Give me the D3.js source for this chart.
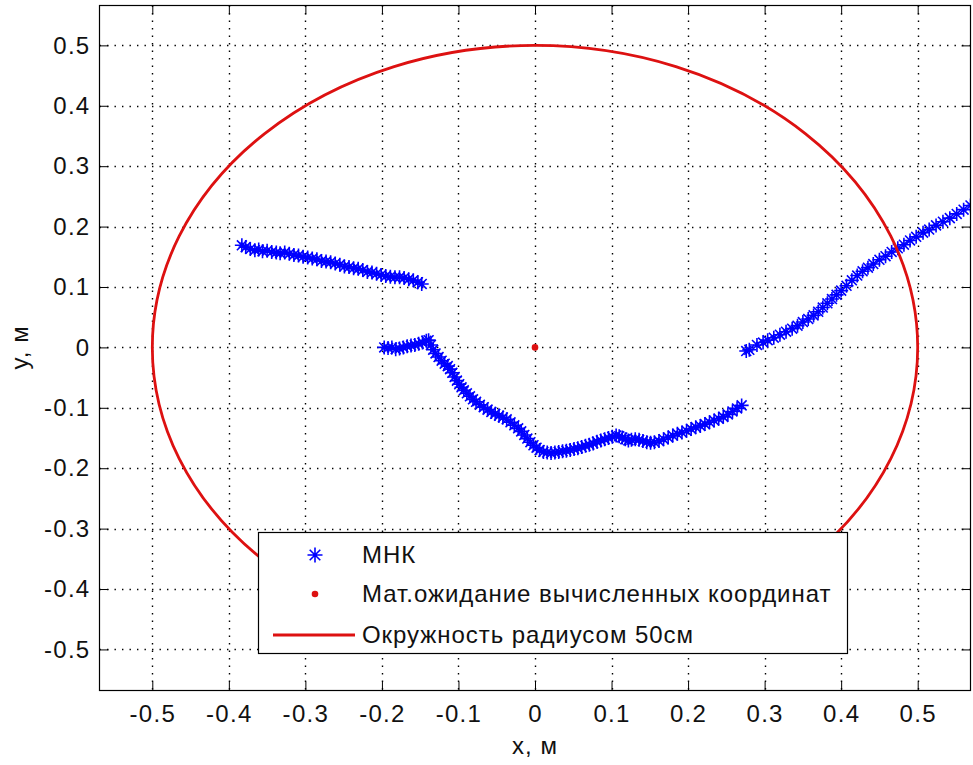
<!DOCTYPE html>
<html>
<head>
<meta charset="utf-8">
<script src="https://cdn.jsdelivr.net/npm/d3@7"></script>
<style>
  html, body { margin: 0; padding: 0; background: #fff; }
  svg { display: block; }
  text { font-family: "Liberation Sans", Arial, sans-serif; fill: #111; }
</style>
</head>
<body>
<svg id="chart" width="973" height="765"></svg>
<script>
// Tick values for both axes (metres)
const xTicks = [-0.5, -0.4, -0.3, -0.2, -0.1, 0, 0.1, 0.2, 0.3, 0.4, 0.5];
const yTicks = [-0.5, -0.4, -0.3, -0.2, -0.1, 0, 0.1, 0.2, 0.3, 0.4, 0.5];

// Least-squares (МНК) position estimates
const mnkX = [
  // upper-left run
  -0.383,-0.378,-0.372,-0.366,-0.361,-0.356,-0.350,-0.344,-0.338,-0.333,
  -0.327,-0.321,-0.315,-0.309,-0.303,-0.297,-0.291,-0.285,-0.279,-0.273,
  -0.267,-0.261,-0.255,-0.249,-0.243,-0.237,-0.231,-0.225,-0.219,-0.213,
  -0.207,-0.201,-0.195,-0.189,-0.183,-0.177,-0.171,-0.165,-0.159,-0.153,-0.148,
  // central run
  -0.197,-0.192,-0.187,-0.182,-0.177,-0.172,-0.167,-0.162,-0.157,-0.152,-0.147,-0.142,-0.139,
  -0.136,-0.133,-0.130,-0.126,-0.122,-0.118,-0.114,-0.111,-0.108,-0.105,-0.102,-0.099,
  -0.096,-0.093,-0.089,-0.085,-0.081,-0.077,-0.072,-0.067,-0.062,-0.057,-0.052,-0.047,
  -0.042,-0.037,-0.032,-0.027,-0.022,-0.018,-0.014,-0.010,-0.006,-0.002,0.002,0.006,
  0.011,0.016,0.021,0.026,0.031,0.036,0.041,0.046,0.051,0.056,0.061,0.066,0.071,0.076,
  0.081,0.086,0.091,0.096,0.101,0.106,0.110,0.114,0.118,0.122,0.126,0.131,0.136,0.141,
  0.146,0.151,0.156,0.162,0.168,0.174,0.180,0.186,0.192,0.198,0.204,0.210,0.216,0.222,
  0.228,0.234,0.240,0.246,0.252,0.258,0.264,0.270,
  // right run
  0.276,0.280,0.290,0.298,0.304,0.312,0.320,0.328,0.336,0.343,0.350,0.357,0.364,0.370,
  0.376,0.382,0.388,0.394,0.400,0.407,0.414,0.421,0.428,0.435,0.442,0.450,0.458,0.466,
  0.474,0.482,0.490,0.498,0.507,0.515,0.524,0.533,0.542,0.551,0.560,0.569,0.578
];
const mnkY = [
  0.169,0.166,0.163,0.161,0.162,0.159,0.160,0.158,0.157,0.156,
  0.157,0.155,0.153,0.152,0.150,0.149,0.147,0.146,0.143,0.142,
  0.141,0.139,0.137,0.134,0.133,0.131,0.130,0.128,0.125,0.124,
  0.122,0.120,0.118,0.117,0.116,0.116,0.115,0.113,0.111,0.108,0.105,
  0.000,-0.001,0.000,-0.003,-0.002,0.000,0.002,0.003,0.004,0.006,0.008,0.011,0.012,
  0.004,-0.004,-0.010,-0.016,-0.022,-0.027,-0.031,-0.036,-0.042,-0.049,-0.055,-0.061,
  -0.066,-0.071,-0.076,-0.081,-0.086,-0.090,-0.095,-0.099,-0.103,-0.107,-0.110,-0.113,
  -0.116,-0.119,-0.124,-0.129,-0.134,-0.139,-0.145,-0.151,-0.157,-0.162,-0.166,-0.170,
  -0.173,-0.174,-0.175,-0.174,-0.173,-0.172,-0.171,-0.170,-0.168,-0.167,-0.165,-0.163,-0.161,-0.159,
  -0.156,-0.154,-0.152,-0.150,-0.148,-0.146,-0.147,-0.149,-0.152,-0.154,-0.153,-0.152,-0.153,-0.155,
  -0.157,-0.158,-0.157,-0.155,-0.152,-0.149,-0.146,-0.143,-0.141,-0.138,-0.135,-0.132,-0.130,-0.127,
  -0.124,-0.121,-0.118,-0.115,-0.111,-0.106,-0.101,-0.096,
  -0.006,-0.004,0.004,0.008,0.012,0.016,0.021,0.026,0.031,0.036,0.042,0.047,0.053,0.059,
  0.066,0.073,0.080,0.087,0.094,0.102,0.111,0.119,0.126,0.132,0.138,0.145,0.151,0.158,
  0.164,0.170,0.177,0.183,0.190,0.195,0.202,0.208,0.214,0.221,0.228,0.235,0.242
];

// Expected value of the computed coordinates
const meanX = [0];
const meanY = [0];

// Reference circle, radius 50 cm about the origin
const circleRadius = [0.5];
const circleCenter = [0, 0];

const legendLabels = ["МНК", "Мат.ожидание вычисленных координат", "Окружность радиусом 50см"];

const plot = { left: 99.5, right: 970.5, top: 5.5, bottom: 690.5 };
const fontSize = 24;
const blue = "#0000ff", red = "#dd1111";

const svg = d3.select("#chart");

const x = d3.scaleLinear().domain([-0.569, 0.569]).range([plot.left, plot.right]);
const y = d3.scaleLinear().domain([-0.568, 0.566]).range([plot.bottom, plot.top]);

const fmt = d => d === 0 ? "0" : d.toFixed(1);

svg.append("defs").append("clipPath").attr("id", "plotClip")
  .append("rect")
  .attr("x", plot.left).attr("y", plot.top)
  .attr("width", plot.right - plot.left).attr("height", plot.bottom - plot.top);

// Dotted grid
const grid = svg.append("g").attr("stroke", "#000").attr("stroke-width", 1.4)
  .attr("stroke-dasharray", "1.4,6.1");
grid.selectAll("line.gx").data(xTicks).join("line").attr("class", "gx")
  .attr("x1", d => Math.round(x(d)) + 0.5).attr("x2", d => Math.round(x(d)) + 0.5)
  .attr("y1", plot.top).attr("y2", plot.bottom);
grid.selectAll("line.gy").data(yTicks).join("line").attr("class", "gy")
  .attr("y1", d => Math.round(y(d)) + 0.5).attr("y2", d => Math.round(y(d)) + 0.5)
  .attr("x1", plot.left).attr("x2", plot.right);

// Axes: labelled bottom/left, plus mirrored inward ticks on top/right
const tickLen = 9;
const axB = d3.axisBottom(x).tickValues(xTicks).tickFormat(fmt).tickSizeInner(-tickLen).tickSizeOuter(0).tickPadding(14);
const axL = d3.axisLeft(y).tickValues(yTicks).tickFormat(fmt).tickSizeInner(-tickLen).tickSizeOuter(0).tickPadding(9);
const axT = d3.axisTop(x).tickValues(xTicks).tickFormat("").tickSizeInner(-tickLen).tickSizeOuter(0);
const axR = d3.axisRight(y).tickValues(yTicks).tickFormat("").tickSizeInner(-tickLen).tickSizeOuter(0);

function styleAxis(g) {
  g.select(".domain").remove();
  g.selectAll(".tick line").attr("stroke", "#000").attr("stroke-width", 1);
  g.selectAll(".tick text").attr("font-size", fontSize)
    .attr("letter-spacing", "1.3px")
    .style("font-family", '"Liberation Sans", Arial, sans-serif').attr("fill", "#111");
}
svg.append("g").attr("transform", `translate(0,${plot.bottom})`).call(axB).call(styleAxis);
svg.append("g").attr("transform", `translate(${plot.left},0)`).call(axL).call(styleAxis);
svg.append("g").attr("transform", `translate(0,${plot.top})`).call(axT).call(styleAxis);
svg.append("g").attr("transform", `translate(${plot.right},0)`).call(axR).call(styleAxis);

// Data layers
const data = svg.append("g").attr("clip-path", "url(#plotClip)");

const starPath = r => {
  const d = r * Math.SQRT1_2;
  return `M${-r},0H${r}M0,${-r}V${r}M${-d},${-d}L${d},${d}M${-d},${d}L${d},${-d}`;
};

data.selectAll("path.mnk").data(d3.range(mnkX.length)).join("path").attr("class", "mnk")
  .attr("transform", i => `translate(${x(mnkX[i])},${y(mnkY[i])})`)
  .attr("d", starPath(7))
  .attr("stroke", blue).attr("stroke-width", 1.6).attr("fill", "none");

data.selectAll("circle.mean").data(d3.range(meanX.length)).join("circle").attr("class", "mean")
  .attr("cx", i => x(meanX[i])).attr("cy", i => y(meanY[i])).attr("r", 3.3)
  .attr("fill", red);

data.selectAll("ellipse.ring").data(circleRadius).join("ellipse").attr("class", "ring")
  .attr("cx", x(circleCenter[0])).attr("cy", y(circleCenter[1]))
  .attr("rx", r => x(circleCenter[0] + r) - x(circleCenter[0]))
  .attr("ry", r => y(circleCenter[1]) - y(circleCenter[1] + r))
  .attr("fill", "none").attr("stroke", red).attr("stroke-width", 2.8);

// Axes box
svg.append("rect")
  .attr("x", plot.left).attr("y", plot.top)
  .attr("width", plot.right - plot.left).attr("height", plot.bottom - plot.top)
  .attr("fill", "none").attr("stroke", "#000").attr("stroke-width", 1.2);

// Axis titles
svg.append("text").attr("x", x(0)).attr("y", 754).attr("text-anchor", "middle")
  .attr("font-size", fontSize).attr("letter-spacing", "1px").text("x, м");
svg.append("text").attr("transform", `translate(28,${y(0)}) rotate(-90)`)
  .attr("text-anchor", "middle").attr("font-size", fontSize).attr("letter-spacing", "1px").text("y, м");

// Legend
const lg = svg.append("g");
lg.append("rect").attr("x", 258.5).attr("y", 532.5).attr("width", 589).attr("height", 121)
  .attr("fill", "#fff").attr("stroke", "#000").attr("stroke-width", 1.2);
const rowY = [555, 594, 635];
const textX = 362;
lg.append("path").attr("transform", `translate(315,${rowY[0]})`).attr("d", starPath(7.5))
  .attr("stroke", blue).attr("stroke-width", 1.6).attr("fill", "none");
lg.append("circle").attr("cx", 315).attr("cy", rowY[1]).attr("r", 3.3).attr("fill", red);
lg.append("line").attr("x1", 273).attr("x2", 355).attr("y1", rowY[2]).attr("y2", rowY[2])
  .attr("stroke", red).attr("stroke-width", 2.8);
lg.selectAll("text.lt").data(legendLabels).join("text").attr("class", "lt")
  .attr("x", textX).attr("y", (d, i) => rowY[i]).attr("dy", "0.35em")
  .attr("font-size", fontSize).attr("letter-spacing", "0.95px").text(d => d);
</script>
</body>
</html>
